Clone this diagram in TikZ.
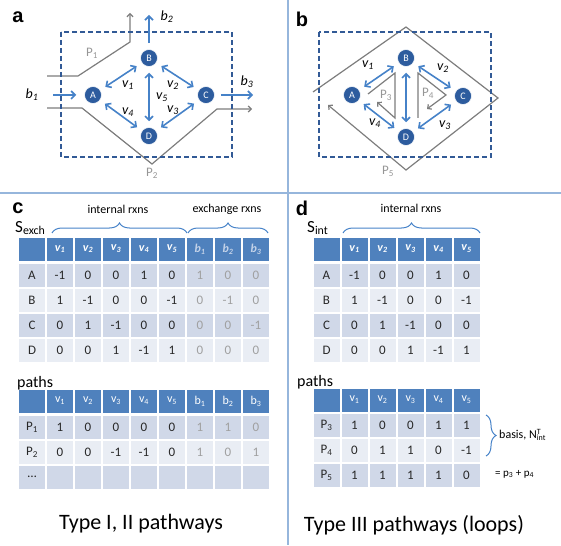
\documentclass[tikz,border=0pt]{standalone}
\usepackage{fontspec}
\setmainfont{Carlito}
\newfontfamily\panelfont{Liberation Sans}
\usetikzlibrary{arrows.meta,decorations.pathreplacing}
\definecolor{boxblue}{RGB}{50,90,150}
\definecolor{nodeblue}{RGB}{45,92,158}
\definecolor{fluxblue}{RGB}{70,130,200}
\definecolor{routegray}{RGB}{125,125,125}
\definecolor{labelgray}{RGB}{150,150,150}
\definecolor{sepblue}{RGB}{150,182,220}
\definecolor{headblue}{RGB}{79,129,189}
\definecolor{bandone}{RGB}{208,216,232}
\definecolor{bandtwo}{RGB}{233,237,244}
\definecolor{exgray}{RGB}{160,160,160}
\definecolor{exhead}{RGB}{195,210,232}
\definecolor{tabtext}{RGB}{40,40,40}
\def\colw{28}
\def\dx{326.5}
\def\fs#1{\fontsize{#1}{#1}\selectfont}

\begin{document}
\begin{tikzpicture}[x=1pt,y=-1pt,>={Straight Barb[length=4pt,width=8pt]}]
    \tikzstyle{metab}=[circle,fill=nodeblue,draw=white,line width=0.5pt,minimum size=17pt,inner sep=0pt,text=white,font=\fs{10}]
    \tikzstyle{flux}=[<->,draw=fluxblue,line width=1.6pt,shorten >=6pt,shorten <=6pt]
    \tikzstyle{exch}=[->,draw=fluxblue,line width=1.6pt,shorten <=6pt]
    \tikzstyle{route}=[->,>={Straight Barb[length=3pt,width=6pt]},draw=routegray,line width=1.2pt]
    \tikzstyle{boxline}=[draw=boxblue,line width=1.8pt,dash pattern=on 5pt off 3pt]
    \tikzstyle{rate}=[font=\fs{14}\itshape,inner sep=1pt]
    \tikzstyle{routelabel}=[text=labelgray,font=\fs{13},inner sep=1pt]
    \tikzstyle{panel}=[font=\panelfont\bfseries\fs{20},inner sep=0pt]
    \tikzstyle{cell}=[rectangle,minimum width=26pt,minimum height=23pt,inner sep=0pt,font=\fs{13},text=tabtext]
    \tikzstyle{hcell}=[cell,fill=headblue,text=white,font=\fs{12}]
    \tikzstyle{annot}=[font=\fs{12},inner sep=0pt]
    \tikzstyle{brace}=[decorate,decoration={brace,amplitude=10pt},draw=fluxblue,line width=1pt]

    \useasboundingbox (0,0) rectangle (561,545);

    % Separate the four panels
    \draw[sepblue,line width=1.2pt] (0,193) -- (561,193);
    \draw[sepblue,line width=1.2pt] (288,0) -- (288,545);

    % Panel a: network with exchange fluxes
    \node[panel] (a-lab) at (18,17) {a};
    \draw[route] (47,76) -- (78,76) -- (130,42) -- (130,13);
    \draw[route] (47,108) -- (82,108) -- (152,164) -- (217,109) -- (252,109);
    \draw[boxline] (61,32) rectangle (232,157);
    \node[metab] (a-A) at (93,95) {A};
    \node[metab] (a-B) at (149,58) {B};
    \node[metab] (a-C) at (206,95) {C};
    \node[metab] (a-D) at (149,136) {D};
    \coordinate (a-in1) at (47,95);
    \coordinate (a-out2) at (149,15);
    \coordinate (a-out3) at (253,95);
    \draw[flux] (a-A) -- (a-B);
    \draw[flux] (a-B) -- (a-C);
    \draw[flux] (a-C) -- (a-D);
    \draw[flux] (a-D) -- (a-A);
    \draw[flux] (a-B) -- (a-D);
    \draw[exch,shorten >=8pt] (a-in1) -- (a-A);
    \draw[exch] (a-B) -- (a-out2);
    \draw[exch] (a-C) -- (a-out3);
    \node[rate] (a-v1) at (128,85) {v\textsubscript{1}};
    \node[rate] (a-v2) at (173,85) {v\textsubscript{2}};
    \node[rate] (a-v3) at (173,110) {v\textsubscript{3}};
    \node[rate] (a-v4) at (128,112) {v\textsubscript{4}};
    \node[rate] (a-v5) at (162,97) {v\textsubscript{5}};
    \node[rate] (a-b1) at (32,95) {b\textsubscript{1}};
    \node[rate] (a-b2) at (167,17) {b\textsubscript{2}};
    \node[rate] (a-b3) at (247,82) {b\textsubscript{3}};
    \node[routelabel] (a-P1) at (92,53) {P\textsubscript{1}};
    \node[routelabel] (a-P2) at (152,173) {P\textsubscript{2}};

    % Panel b: network with internal loops
    \node[panel] (b-lab) at (302,19) {b};
    \draw[route] (313,92) -- (406,27) -- (498,98) -- (406,170) -- (328,105);
    \draw[route] (368,94) -- (395,73) -- (395,118) -- (377,102);
    \draw[route] (418,118) -- (418,73) -- (446,95) -- (427,109);
    \draw[boxline] (319,32) rectangle (491,157);
    \node[metab] (b-A) at (352,95) {A};
    \node[metab] (b-B) at (406,58) {B};
    \node[metab] (b-C) at (463,96) {C};
    \node[metab] (b-D) at (406,137) {D};
    \draw[flux] (b-A) -- (b-B);
    \draw[flux] (b-B) -- (b-C);
    \draw[flux] (b-C) -- (b-D);
    \draw[flux] (b-D) -- (b-A);
    \draw[flux] (b-B) -- (b-D);
    \node[rate] (b-v1) at (368,65) {v\textsubscript{1}};
    \node[rate] (b-v2) at (443,68) {v\textsubscript{2}};
    \node[rate] (b-v3) at (445,125) {v\textsubscript{3}};
    \node[rate] (b-v4) at (375,123) {v\textsubscript{4}};
    \node[routelabel] (b-P3) at (386,95) {P\textsubscript{3}};
    \node[routelabel] (b-P4) at (428,93) {P\textsubscript{4}};
    \node[routelabel] (b-P5) at (388,171) {P\textsubscript{5}};

    % Panel c: stoichiometric matrix with exchange columns
    \node[panel] (c-lab) at (18,208) {c};
    \node[annot] (c-int) at (118,209) {internal rxns};
    \node[annot] (c-ex) at (227,209) {exchange rxns};
    \node[anchor=west,font=\fs{17},inner sep=0pt] (c-S) at (15,228) {S\textsubscript{exch}};
    \draw[brace] (52,233) -- (187,233);
    \draw[brace] (188,233) -- (268,233);
    \node[hcell] (cS-h0) at (32,249) {};
    \foreach \i in {1,...,5}
        \node[hcell,font=\fs{12}\bfseries\itshape] (cS-h\i) at ({32+\colw*\i},249) {v\textsubscript{\i}};
    \foreach \i in {1,2,3}
        \node[hcell,text=exhead,font=\fs{12}\bfseries\itshape] (cS-hb\i) at ({172+\colw*\i},249) {b\textsubscript{\i}};
    \foreach \met/\y/\band/\intv/\exv in {A/275/bandone/{-1,0,0,1,0}/{1,0,0},
                                           B/300/bandtwo/{1,-1,0,0,-1}/{0,-1,0},
                                           C/325/bandone/{0,1,-1,0,0}/{0,0,-1},
                                           D/350/bandtwo/{0,0,1,-1,1}/{0,0,0}} {
        \node[cell,fill=\band] (cS-\met-0) at (32,\y) {\met};
        \foreach \val [count=\i] in \intv
            \node[cell,fill=\band] (cS-\met-\i) at ({32+\colw*\i},\y) {\val};
        \foreach \val [count=\i] in \exv
            \node[cell,fill=\band,text=exgray] (cS-\met-b\i) at ({172+\colw*\i},\y) {\val};
    }

    % Panel c: pathway table
    \node[anchor=west,font=\fs{16},inner sep=0pt] (c-paths) at (17,383) {paths};
    \node[hcell] (cP-h0) at (32,401) {};
    \foreach \i in {1,...,5}
        \node[hcell] (cP-h\i) at ({32+\colw*\i},401) {v\textsubscript{\i}};
    \foreach \i in {1,2,3}
        \node[hcell] (cP-hb\i) at ({172+\colw*\i},401) {b\textsubscript{\i}};
    \foreach \k/\y/\band/\intv/\exv in {1/427/bandone/{1,0,0,0,0}/{1,1,0},
                                         2/452/bandtwo/{0,0,-1,-1,0}/{1,0,1}} {
        \node[cell,fill=\band] (cP-\k-0) at (32,\y) {P\textsubscript{\k}};
        \foreach \val [count=\i] in \intv
            \node[cell,fill=\band] (cP-\k-\i) at ({32+\colw*\i},\y) {\val};
        \foreach \val [count=\i] in \exv
            \node[cell,fill=\band,text=exgray] (cP-\k-b\i) at ({172+\colw*\i},\y) {\val};
    }
    \node[cell,fill=bandone] (cP-x-0) at (32,477) {\ldots};
    \foreach \i in {1,...,8}
        \node[cell,fill=bandone] (cP-x-\i) at ({32+\colw*\i},477) {};
    \node[font=\fs{22}] (c-cap) at (141,524) {Type I, II pathways};

    % Panel d: internal stoichiometric matrix
    \node[panel] (d-lab) at (302,208) {d};
    \node[annot] (d-int) at (411,208) {internal rxns};
    \node[anchor=west,font=\fs{17},inner sep=0pt] (d-S) at (307,228) {S\textsubscript{int}};
    \draw[brace] (343,233) -- (480,233);
    \node[hcell] (dS-h0) at (\dx,249) {};
    \foreach \i in {1,...,5}
        \node[hcell,font=\fs{12}\bfseries\itshape] (dS-h\i) at ({\dx+\colw*\i},249) {v\textsubscript{\i}};
    \foreach \met/\y/\band/\intv in {A/275/bandone/{-1,0,0,1,0},
                                      B/300/bandtwo/{1,-1,0,0,-1},
                                      C/325/bandone/{0,1,-1,0,0},
                                      D/350/bandtwo/{0,0,1,-1,1}} {
        \node[cell,fill=\band] (dS-\met-0) at (\dx,\y) {\met};
        \foreach \val [count=\i] in \intv
            \node[cell,fill=\band] (dS-\met-\i) at ({\dx+\colw*\i},\y) {\val};
    }

    % Panel d: loop table
    \node[anchor=west,font=\fs{16},inner sep=0pt] (d-paths) at (297,382) {paths};
    \node[hcell] (dP-h0) at (\dx,400) {};
    \foreach \i in {1,...,5}
        \node[hcell] (dP-h\i) at ({\dx+\colw*\i},400) {v\textsubscript{\i}};
    \foreach \k/\y/\band/\intv in {3/425/bandone/{1,0,0,1,1},
                                    4/450/bandtwo/{0,1,1,0,-1},
                                    5/475/bandone/{1,1,1,1,0}} {
        \node[cell,fill=\band] (dP-\k-0) at (\dx,\y) {P\textsubscript{\k}};
        \foreach \val [count=\i] in \intv
            \node[cell,fill=\band] (dP-\k-\i) at ({\dx+\colw*\i},\y) {\val};
    }
    \draw[brace] (486,415) -- (486,456);
    \node[anchor=west,font=\fs{12},inner sep=0pt] (d-basis) at (499,435) {basis, N\rlap{\textsuperscript{T}}\textsubscript{int}};
    \node[anchor=west,font=\fs{11},inner sep=0pt] (d-sum) at (495,474) {= p\textsubscript{3} + p\textsubscript{4}};
    \node[font=\fs{22}] (d-cap) at (414,525) {Type III pathways (loops)};
\end{tikzpicture}
\end{document}
